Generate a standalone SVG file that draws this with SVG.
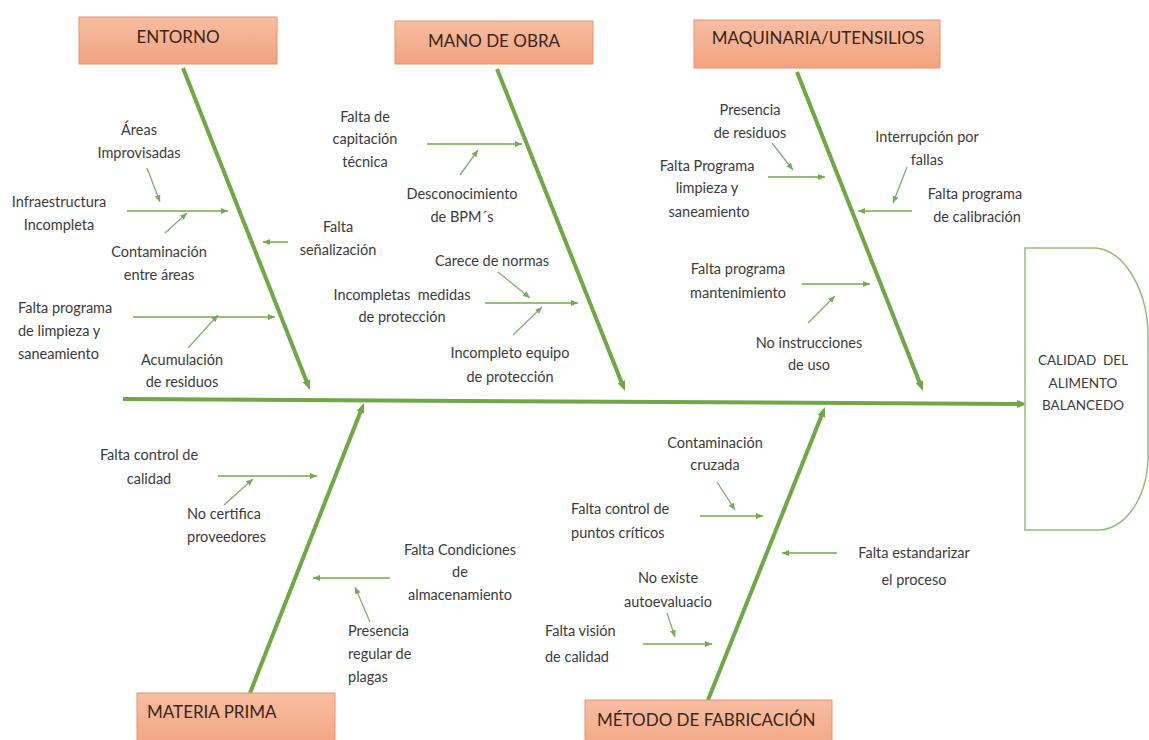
<svg xmlns="http://www.w3.org/2000/svg" width="1149" height="740" viewBox="0 0 1149 740">
  <defs>
    <linearGradient id="boxFill" x1="0" y1="0" x2="0" y2="1">
      <stop offset="0" stop-color="#f7bda1"/>
      <stop offset="1" stop-color="#f2a27f"/>
    </linearGradient>
    <marker id="bigHead" viewBox="0 0 10 8" refX="4" refY="4" markerWidth="10" markerHeight="8" markerUnits="userSpaceOnUse" orient="auto">
      <path d="M0,0 L10,4 L0,8 z" fill="#6fa845"/>
    </marker>
    <marker id="smallHead" viewBox="0 0 7 6" refX="7" refY="3" markerWidth="7" markerHeight="6" markerUnits="userSpaceOnUse" orient="auto">
      <path d="M0,0 L7,3 L0,6 z" fill="#70ad47"/>
    </marker>
    <marker id="subHead" viewBox="0 0 7 6" refX="7" refY="3" markerWidth="7" markerHeight="6" markerUnits="userSpaceOnUse" orient="auto">
      <path d="M0,0 L7,3 L0,6 z" fill="#7aa860"/>
    </marker>
  </defs>
  <style>
    .box { fill: url(#boxFill); stroke: #e8916b; stroke-width: 1; }
    .title { font-family: Lato, "Liberation Sans", sans-serif; font-size: 17px; fill: #3a2618; }
    .t { font-family: Lato, "Liberation Sans", sans-serif; font-size: 14.5px; fill: #3b3b3b; text-anchor: middle; }
    .l { text-anchor: start; }
    .head-t { font-family: Lato, "Liberation Sans", sans-serif; font-size: 13.5px; fill: #3b3b3b; text-anchor: middle; white-space: pre; }
    .bone { stroke: #6fa845; stroke-width: 4; fill: none; marker-end: url(#bigHead); }
    .cause { stroke: #70ad47; stroke-width: 1.5; fill: none; marker-end: url(#smallHead); }
    .sub { stroke: #85ad6e; stroke-width: 1.3; fill: none; marker-end: url(#subHead); }
  </style>
  <rect width="1149" height="740" fill="#ffffff"/>

  <!-- spine, category bones and cause arrows -->
  <g id="connectors">
    <line class="bone" x1="123" y1="399" x2="1021" y2="404"/>
    <line class="bone" x1="183" y1="68" x2="307.8" y2="384.4"/>
    <line class="bone" x1="497" y1="69" x2="622.8" y2="385.4"/>
    <line class="bone" x1="797" y1="72" x2="920.8" y2="385.4"/>
    <line class="bone" x1="250" y1="693" x2="361.8" y2="408.6"/>
    <line class="bone" x1="708" y1="700" x2="822.8" y2="412.6"/>

    <line class="cause" x1="127" y1="211" x2="228" y2="211"/>
    <line class="cause" x1="288" y1="242" x2="263" y2="242"/>
    <line class="cause" x1="133" y1="317" x2="275" y2="317"/>
    <line class="cause" x1="427" y1="144" x2="522" y2="144"/>
    <line class="cause" x1="485" y1="303" x2="578" y2="303"/>
    <line class="cause" x1="768" y1="177" x2="825" y2="177"/>
    <line class="cause" x1="912" y1="211" x2="858" y2="211"/>
    <line class="cause" x1="802" y1="284" x2="870" y2="284"/>
    <line class="cause" x1="218" y1="476" x2="317" y2="476"/>
    <line class="cause" x1="390" y1="578" x2="313" y2="578"/>
    <line class="cause" x1="700" y1="516" x2="763" y2="516"/>
    <line class="cause" x1="643" y1="644" x2="712" y2="644"/>
    <line class="cause" x1="837" y1="553" x2="782" y2="553"/>

    <line class="sub" x1="147" y1="168" x2="160" y2="202"/>
    <line class="sub" x1="165" y1="233" x2="187" y2="213"/>
    <line class="sub" x1="188" y1="348" x2="218" y2="315"/>
    <line class="sub" x1="460" y1="175" x2="478" y2="150"/>
    <line class="sub" x1="498" y1="272" x2="530" y2="298"/>
    <line class="sub" x1="513" y1="335" x2="542" y2="307"/>
    <line class="sub" x1="772" y1="143" x2="793" y2="170"/>
    <line class="sub" x1="907" y1="167" x2="893" y2="203"/>
    <line class="sub" x1="808" y1="323" x2="835" y2="296"/>
    <line class="sub" x1="224" y1="505" x2="253" y2="479"/>
    <line class="sub" x1="370" y1="622" x2="355" y2="587"/>
    <line class="sub" x1="717" y1="482" x2="735" y2="510"/>
    <line class="sub" x1="667" y1="613" x2="675" y2="637"/>
  </g>

  <!-- category boxes -->
  <g id="entorno">
    <rect class="box" x="79" y="17" width="198" height="47"/>
    <text class="title" x="178" y="43" text-anchor="middle">ENTORNO</text>
  </g>
  <g id="mano-de-obra">
    <rect class="box" x="395" y="21" width="198" height="43"/>
    <text class="title" x="494" y="47" text-anchor="middle">MANO DE OBRA</text>
  </g>
  <g id="maquinaria">
    <rect class="box" x="694" y="20" width="246" height="48"/>
    <text class="title" x="818" y="44" text-anchor="middle">MAQUINARIA/UTENSILIOS</text>
  </g>
  <g id="materia-prima">
    <rect class="box" x="137" y="693" width="198" height="60"/>
    <text class="title" x="147" y="718">MATERIA PRIMA</text>
  </g>
  <g id="metodo">
    <rect class="box" x="585" y="700" width="247" height="60"/>
    <text class="title" x="597" y="726">MÉTODO DE FABRICACIÓN</text>
  </g>

  <!-- effect head -->
  <g id="efecto">
    <path d="M1025,248 H1095 C1125,250 1146,290 1148,330 V460 C1146,500 1125,528 1100,530 H1025 Z" fill="#ffffff" stroke="#93bf76" stroke-width="1.5"/>
    <text class="head-t" x="1083" y="365">CALIDAD  DEL</text>
    <text class="head-t" x="1083" y="388">ALIMENTO</text>
    <text class="head-t" x="1083" y="410">BALANCEDO</text>
  </g>

  <!-- causes: ENTORNO -->
  <g id="areas-improvisadas">
    <text class="t" x="139" y="135">Áreas</text>
    <text class="t" x="139" y="158">Improvisadas</text>
  </g>
  <g id="infraestructura">
    <text class="t" x="59" y="207">Infraestructura</text>
    <text class="t" x="59" y="230">Incompleta</text>
  </g>
  <g id="contaminacion-areas">
    <text class="t" x="159" y="257">Contaminación</text>
    <text class="t" x="159" y="280">entre áreas</text>
  </g>
  <g id="senalizacion">
    <text class="t" x="338" y="232">Falta</text>
    <text class="t" x="338" y="255">señalización</text>
  </g>
  <g id="programa-limpieza-entorno">
    <text class="t l" x="18" y="313">Falta programa</text>
    <text class="t l" x="18" y="336">de limpieza y</text>
    <text class="t l" x="18" y="359">saneamiento</text>
  </g>
  <g id="acumulacion">
    <text class="t" x="182" y="365">Acumulación</text>
    <text class="t" x="182" y="387">de residuos</text>
  </g>

  <!-- causes: MANO DE OBRA -->
  <g id="capitacion">
    <text class="t" x="365" y="122">Falta de</text>
    <text class="t" x="365" y="144">capitación</text>
    <text class="t" x="365" y="167">técnica</text>
  </g>
  <g id="bpm">
    <text class="t" x="462" y="199">Desconocimiento</text>
    <text class="t" x="462" y="222">de BPM´s</text>
  </g>
  <g id="normas">
    <text class="t" x="492" y="266">Carece de normas</text>
  </g>
  <g id="medidas">
    <text class="t" x="402" y="300" style="white-space:pre">Incompletas  medidas</text>
    <text class="t" x="402" y="322">de protección</text>
  </g>
  <g id="equipo">
    <text class="t" x="510" y="358">Incompleto equipo</text>
    <text class="t" x="510" y="382">de protección</text>
  </g>

  <!-- causes: MAQUINARIA/UTENSILIOS -->
  <g id="residuos-maq">
    <text class="t" x="750" y="115">Presencia</text>
    <text class="t" x="750" y="138">de residuos</text>
  </g>
  <g id="programa-limpieza-maq">
    <text class="t" x="707" y="171">Falta Programa</text>
    <text class="t" x="707" y="193">limpieza y</text>
    <text class="t" x="709" y="217">saneamiento</text>
  </g>
  <g id="interrupcion">
    <text class="t" x="927" y="142">Interrupción por</text>
    <text class="t" x="927" y="165">fallas</text>
  </g>
  <g id="calibracion">
    <text class="t" x="975" y="199">Falta programa</text>
    <text class="t" x="977" y="222">de calibración</text>
  </g>
  <g id="mantenimiento">
    <text class="t" x="738" y="274">Falta programa</text>
    <text class="t" x="738" y="298">mantenimiento</text>
  </g>
  <g id="instrucciones">
    <text class="t" x="809" y="348">No instrucciones</text>
    <text class="t" x="809" y="370">de uso</text>
  </g>

  <!-- causes: MATERIA PRIMA -->
  <g id="control-calidad">
    <text class="t" x="149" y="460">Falta control de</text>
    <text class="t" x="149" y="484">calidad</text>
  </g>
  <g id="proveedores">
    <text class="t l" x="187" y="519">No certifica</text>
    <text class="t l" x="187" y="542">proveedores</text>
  </g>
  <g id="almacenamiento">
    <text class="t" x="460" y="555">Falta Condiciones</text>
    <text class="t" x="460" y="577">de</text>
    <text class="t" x="460" y="600">almacenamiento</text>
  </g>
  <g id="plagas">
    <text class="t l" x="348" y="636">Presencia</text>
    <text class="t l" x="348" y="659">regular de</text>
    <text class="t l" x="348" y="682">plagas</text>
  </g>

  <!-- causes: MÉTODO DE FABRICACIÓN -->
  <g id="contaminacion-cruzada">
    <text class="t" x="715" y="448">Contaminación</text>
    <text class="t" x="715" y="470">cruzada</text>
  </g>
  <g id="puntos-criticos">
    <text class="t l" x="571" y="514">Falta control de</text>
    <text class="t l" x="571" y="538">puntos críticos</text>
  </g>
  <g id="autoevaluacion">
    <text class="t" x="668" y="583">No existe</text>
    <text class="t" x="668" y="607">autoevaluacio</text>
  </g>
  <g id="vision-calidad">
    <text class="t l" x="545" y="636">Falta visión</text>
    <text class="t l" x="545" y="662">de calidad</text>
  </g>
  <g id="estandarizar">
    <text class="t" x="914" y="558">Falta estandarizar</text>
    <text class="t" x="914" y="585">el proceso</text>
  </g>
</svg>
